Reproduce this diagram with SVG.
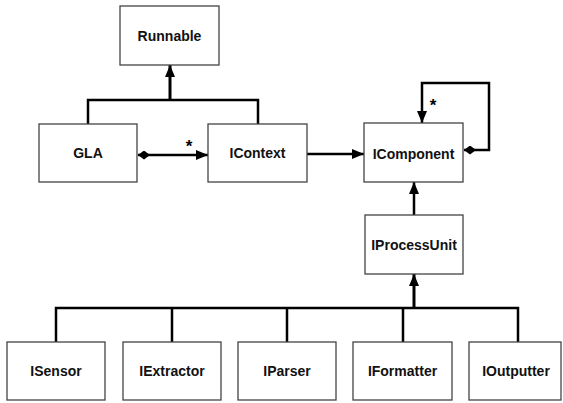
<svg xmlns="http://www.w3.org/2000/svg" width="563" height="403" viewBox="0 0 563 403">
<style>
.box{fill:#fff;stroke:#444;stroke-width:1.3}
.lbl{font-family:"Liberation Sans",Arial,sans-serif;font-weight:bold;font-size:14px;fill:#111;text-anchor:middle}
.star{font-family:"Liberation Sans",Arial,sans-serif;font-weight:bold;font-size:17px;fill:#000;text-anchor:middle}
.ln{fill:none;stroke:#000;stroke-width:2.5}
.tk{fill:none;stroke:#000;stroke-width:3}
</style>
<defs>
<marker id="arr" viewBox="0 0 12 10" refX="12" refY="5" markerWidth="12" markerHeight="10" markerUnits="userSpaceOnUse" orient="auto"><path d="M0,0 L12,5 L0,10 Z" fill="#000"/></marker>
<marker id="dia" viewBox="0 0 12 9" refX="0" refY="4.5" markerWidth="12" markerHeight="9" markerUnits="userSpaceOnUse" orient="auto"><path d="M0,4.5 L6,0 L12,4.5 L6,9 Z" fill="#000"/></marker>
</defs>
<g id="connectors">
<path class="ln" d="M88,124 V100 H258 V124"/>
<path class="tk" d="M170,100 V65" marker-end="url(#arr)"/>
<path class="ln" d="M138,155 H208" marker-start="url(#dia)" marker-end="url(#arr)"/>
<text class="star" x="189" y="152">*</text>
<path class="ln" d="M464,150 H489 V83 H422 V123" marker-start="url(#dia)" marker-end="url(#arr)"/>
<text class="star" x="433" y="111">*</text>
<path class="ln" d="M307,154 H364" marker-end="url(#arr)"/>
<path class="ln" d="M414,215 V182" marker-end="url(#arr)"/>
<path class="ln" d="M56,342 V308 H518 V342 M172,308 V342 M287,308 V342 M403,308 V342"/>
<path class="tk" d="M414,308 V274" marker-end="url(#arr)"/>
</g>
<g id="Runnable"><rect class="box" x="120" y="6" width="99" height="59"/><text class="lbl" x="169.5" y="40.5">Runnable</text></g>
<g id="GLA"><rect class="box" x="39" y="124" width="98" height="58"/><text class="lbl" x="88" y="158">GLA</text></g>
<g id="IContext"><rect class="box" x="208" y="124" width="99" height="58"/><text class="lbl" x="257.5" y="158">IContext</text></g>
<g id="IComponent"><rect class="box" x="364" y="123" width="99" height="59"/><text class="lbl" x="413.5" y="159">IComponent</text></g>
<g id="IProcessUnit"><rect class="box" x="365" y="215" width="98" height="59"/><text class="lbl" x="414" y="250">IProcessUnit</text></g>
<g id="ISensor"><rect class="box" x="7" y="342" width="98" height="58"/><text class="lbl" x="56" y="376">ISensor</text></g>
<g id="IExtractor"><rect class="box" x="123" y="342" width="98" height="58"/><text class="lbl" x="172" y="376">IExtractor</text></g>
<g id="IParser"><rect class="box" x="238" y="342" width="98" height="58"/><text class="lbl" x="287" y="376">IParser</text></g>
<g id="IFormatter"><rect class="box" x="353" y="342" width="99" height="58"/><text class="lbl" x="402.5" y="376">IFormatter</text></g>
<g id="IOutputter"><rect class="box" x="469" y="342" width="92" height="58"/><text class="lbl" x="516" y="376">IOutputter</text></g>
</svg>
